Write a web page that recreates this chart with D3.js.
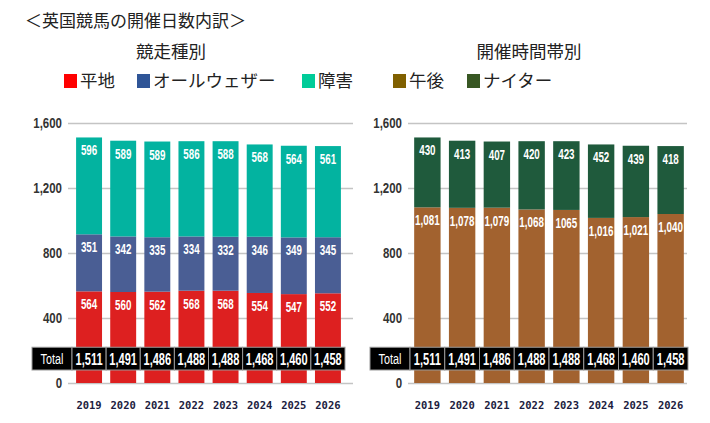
<!DOCTYPE html>
<html>
<head>
<meta charset="utf-8">
<script src="https://cdn.jsdelivr.net/npm/d3@7"></script>
<style>
  body { margin: 0; background: #fff; }
  .jp { font-family: "Noto Sans CJK JP", sans-serif; }
  .num { font-family: "Liberation Sans", Arial, sans-serif; }
</style>
</head>
<body>
<div id="chart-area"></div>
<script>
const years = ["2019", "2020", "2021", "2022", "2023", "2024", "2025", "2026"];
// 競走種別
const flat = [564, 560, 562, 568, 568, 554, 547, 552];
const allWeather = [351, 342, 335, 334, 332, 346, 349, 345];
const jumps = [596, 589, 589, 586, 588, 568, 564, 561];
// 開催時間帯別
const afternoon = [1081, 1078, 1079, 1068, 1065, 1016, 1021, 1040];
const afternoonText = ["1,081", "1,078", "1,079", "1,068", "1065", "1,016", "1,021", "1,040"];
const night = [430, 413, 407, 420, 423, 452, 439, 418];
const totals = [1511, 1491, 1486, 1488, 1488, 1468, 1460, 1458];
const yTicks = [0, 400, 800, 1200, 1600];

const svg = d3.select("#chart-area")
  .append("svg")
  .attr("width", 710)
  .attr("height", 423);

// narrow text: the source uses a condensed face we don't have
const squeeze = (px, py, sx) => `translate(${px}, ${py}) scale(${sx}, 1)`;

// title
svg.append("text")
  .attr("class", "jp")
  .attr("x", 25)
  .attr("y", 27)
  .attr("font-size", "17px")
  .attr("fill", "#222")
  .text("＜英国競馬の開催日数内訳＞");

// legend
const legend = [
  { label: "平地", color: "#ff0000", x: 64 },
  { label: "オールウェザー", color: "#2f5597", x: 137 },
  { label: "障害", color: "#00cc99", x: 302 },
  { label: "午後", color: "#806000", x: 393 },
  { label: "ナイター", color: "#385723", x: 467 }
];
const lg = svg.selectAll(".legend").data(legend).enter()
  .append("g")
  .attr("class", "legend")
  .attr("transform", d => `translate(${d.x}, 74)`);
lg.append("rect")
  .attr("width", 13)
  .attr("height", 14)
  .attr("fill", d => d.color);
lg.append("text")
  .attr("class", "jp")
  .attr("x", 16)
  .attr("y", 13)
  .attr("font-size", "17.5px")
  .attr("fill", "#222")
  .text(d => d.label);

const y = d3.scaleLinear().domain([0, 1600]).range([383, 123]);

function drawChart(opts) {
  const g = svg.append("g");

  // subtitle
  g.append("text")
    .attr("class", "jp")
    .attr("x", opts.titleX)
    .attr("y", 58)
    .attr("text-anchor", "middle")
    .attr("font-size", "17.5px")
    .attr("fill", "#222")
    .text(opts.title);

  const x = d3.scaleBand()
    .domain(years)
    .range(opts.range)
    .paddingInner(0.24)
    .paddingOuter(0.12);

  // y axis + gridlines
  const axis = g.append("g")
    .attr("class", "num")
    .attr("transform", `translate(${opts.gridLeft}, 0)`)
    .call(d3.axisLeft(y)
      .tickValues(yTicks)
      .tickFormat(d3.format(","))
      .tickSize(-(opts.gridRight - opts.gridLeft))
      .tickPadding(6));
  axis.select(".domain").remove();
  axis.selectAll("line").attr("stroke", "#c4c4c4").attr("stroke-width", 1.5);
  axis.selectAll("text")
    .attr("x", -6 / 0.74)
    .attr("transform", "scale(0.74, 1)")
    .attr("font-size", "15.5px")
    .attr("font-weight", "bold")
    .attr("fill", "#333");

  // stacked bars
  const rows = years.map((yr, i) => {
    const r = { year: yr };
    opts.series.forEach(s => { r[s.key] = s.values[i]; });
    return r;
  });
  const stacked = d3.stack().keys(opts.series.map(s => s.key))(rows);

  stacked.forEach((layer, li) => {
    const s = opts.series[li];
    const lay = g.append("g");
    lay.selectAll("rect").data(layer).enter()
      .append("rect")
      .attr("x", d => x(d.data.year))
      .attr("y", d => y(d[1]))
      .attr("width", x.bandwidth())
      .attr("height", d => y(d[0]) - y(d[1]))
      .attr("fill", s.color);
    lay.selectAll("text").data(layer).enter()
      .append("text")
      .attr("class", "num")
      .attr("transform", d => squeeze(x(d.data.year) + x.bandwidth() / 2, y(d[1]) + 18, 0.7))
      .attr("text-anchor", "middle")
      .attr("font-size", "14px")
      .attr("font-weight", "bold")
      .attr("fill", "#fff")
      .text((d, i) => s.text ? s.text[i] : d3.format(",")(s.values[i]));
  });

  // total row
  const step = x.step();
  const pad = step * x.paddingInner() / 2;
  const tg = g.append("g");
  tg.append("rect")
    .attr("x", opts.range[0] - 40)
    .attr("y", y(220))
    .attr("width", 40)
    .attr("height", y(80) - y(220))
    .attr("fill", "#000")
    .attr("stroke", "#999");
  tg.append("text")
    .attr("class", "num")
    .attr("transform", squeeze(opts.range[0] - 20, y(150) + 5.5, 0.72))
    .attr("text-anchor", "middle")
    .attr("font-size", "15px")
    .attr("fill", "#fff")
    .text("Total");
  tg.selectAll(".cell").data(years).enter()
    .append("rect")
    .attr("class", "cell")
    .attr("x", d => x(d) - pad)
    .attr("y", y(220))
    .attr("width", step)
    .attr("height", y(80) - y(220))
    .attr("fill", "#000")
    .attr("stroke", "#999");
  tg.selectAll(".tot").data(years).enter()
    .append("text")
    .attr("class", "num tot")
    .attr("transform", d => squeeze(x(d) + x.bandwidth() / 2, y(150) + 6.5, 0.65))
    .attr("text-anchor", "middle")
    .attr("font-size", "17px")
    .attr("font-weight", "bold")
    .attr("fill", "#fff")
    .text((d, i) => d3.format(",")(totals[i]));

  // year labels
  g.selectAll(".yr").data(years).enter()
    .append("text")
    .attr("class", "yr")
    .attr("x", d => x(d) + x.bandwidth() / 2)
    .attr("y", 409)
    .attr("text-anchor", "middle")
    .attr("font-family", "DejaVu Sans Mono, monospace")
    .attr("font-size", "10.5px")
    .attr("font-weight", "bold")
    .attr("fill", "#1c1c40")
    .text(d => d);
}

drawChart({
  title: "競走種別",
  titleX: 171,
  range: [72, 345],
  gridLeft: 68,
  gridRight: 353,
  series: [
    { key: "flat", values: flat, color: "#dd2020" },
    { key: "allWeather", values: allWeather, color: "#4a5e94" },
    { key: "jumps", values: jumps, color: "#03b3a0" }
  ]
});

drawChart({
  title: "開催時間帯別",
  titleX: 529,
  range: [410, 688],
  gridLeft: 408,
  gridRight: 687,
  series: [
    { key: "afternoon", values: afternoon, text: afternoonText, color: "#a2622f" },
    { key: "night", values: night, color: "#1f5a3c" }
  ]
});
</script>
</body>
</html>
